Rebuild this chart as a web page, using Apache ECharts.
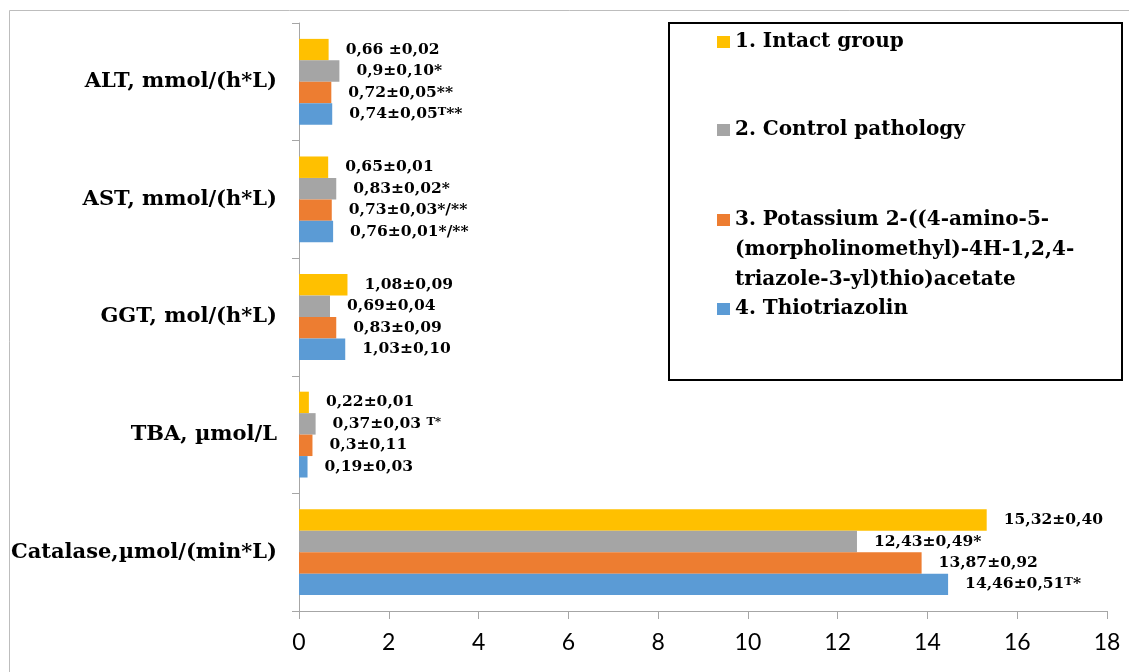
<!DOCTYPE html>
<html>
<head>
<meta charset="utf-8">
<script src="https://cdn.jsdelivr.net/npm/echarts@6/dist/echarts.min.js"></script>
<style>
html,body{margin:0;padding:0;background:#fff;}
#chart{width:1129px;height:672px;}
</style>
</head>
<body>
<div id="chart"></div>
<script>
const categories = ['ALT, mmol/(h*L)', 'AST, mmol/(h*L)', 'GGT, mol/(h*L)', 'TBA, µmol/L', 'Catalase,µmol/(min*L)'];
const seriesNames = [
  '1. Intact group',
  '2. Control pathology',
  '3. Potassium 2-((4-amino-5-\n(morpholinomethyl)-4H-1,2,4-\ntriazole-3-yl)thio)acetate',
  '4. Thiotriazolin'
];
const intactValues = [0.66, 0.65, 1.08, 0.22, 15.32];
const controlValues = [0.90, 0.83, 0.69, 0.37, 12.43];
const potassiumValues = [0.72, 0.73, 0.83, 0.30, 13.87];
const thioValues = [0.74, 0.76, 1.03, 0.19, 14.46];
const intactLabels = ['0,66 ±0,02', '0,65±0,01', '1,08±0,09', '0,22±0,01', '15,32±0,40'];
const controlLabels = ['0,9±0,10*', '0,83±0,02*', '0,69±0,04', '0,37±0,03 {s|T*}', '12,43±0,49*'];
const potassiumLabels = ['0,72±0,05**', '0,73±0,03*/**', '0,83±0,09', '0,3±0,11', '13,87±0,92'];
const thioLabels = ['0,74±0,05{s|T}**', '0,76±0,01*/**', '1,03±0,10', '0,19±0,03', '14,46±0,51{s|T}*'];
const xTicks = { min: 0, max: 18, interval: 2 };

const colors = ['#FFC000', '#A5A5A5', '#ED7D31', '#5B9BD5'];
const serif = '"DejaVu Serif", "Liberation Serif", serif';

function labelCfg(texts) {
  return {
    show: true,
    position: 'right',
    distance: 17,
    fontFamily: serif,
    fontWeight: 'bold',
    fontSize: 15.5,
    color: '#000',
    formatter: p => texts[p.dataIndex],
    rich: {
      s: { fontFamily: serif, fontWeight: 'bold', fontSize: 11.5, verticalAlign: 'top', color: '#000' }
    }
  };
}

const valueSets = [intactValues, controlValues, potassiumValues, thioValues];
const labelSets = [intactLabels, controlLabels, potassiumLabels, thioLabels];

const series = seriesNames.map((n, i) => ({
  name: n,
  type: 'bar',
  data: valueSets[i],
  itemStyle: { color: colors[i] },
  barGap: '0%',
  barCategoryGap: '27%',
  label: labelCfg(labelSets[i]),
  emphasis: { disabled: true }
}));

const legendTops = [27, 115, 145, 294];
const legends = seriesNames.map((n, i) => ({
  data: [n],
  orient: 'vertical',
  left: 717,
  top: legendTops[i],
  padding: 0,
  icon: 'rect',
  itemWidth: 13,
  itemHeight: 12,
  selectedMode: false,
  formatter: i === 2 ? (name => '\n\n' + name) : (name => name),
  textStyle: {
    fontFamily: serif,
    fontWeight: 'bold',
    fontSize: 20,
    lineHeight: 30,
    color: '#000'
  }
}));

const chart = echarts.init(document.getElementById('chart'));
chart.setOption({
  animation: false,
  backgroundColor: '#fff',
  color: colors,
  grid: { left: 299, right: 22, top: 23, bottom: 61 },
  legend: legends,
  graphic: [
    { type: 'rect', z: -10, silent: true, shape: { x: 9.5, y: 10.5, width: 1300, height: 800 }, style: { fill: 'none', stroke: '#bdbdbd', lineWidth: 1 } },
    { type: 'rect', z: 0, silent: true, shape: { x: 669, y: 23, width: 453, height: 357 }, style: { fill: 'none', stroke: '#000', lineWidth: 2 } }
  ],
  xAxis: {
    type: 'value',
    min: xTicks.min,
    max: xTicks.max,
    interval: xTicks.interval,
    splitLine: { show: false },
    axisLine: { show: true, lineStyle: { color: '#a6a6a6', width: 1 } },
    axisTick: { show: true, length: 8, lineStyle: { color: '#a6a6a6' } },
    axisLabel: { margin: 20, fontFamily: 'Lato, "Open Sans", sans-serif', fontSize: 23, color: '#000' }
  },
  yAxis: {
    type: 'category',
    inverse: true,
    data: categories,
    axisLine: { show: true, lineStyle: { color: '#a6a6a6', width: 1 } },
    axisTick: { show: true, length: 7, alignWithLabel: false, lineStyle: { color: '#a6a6a6' } },
    axisLabel: { margin: 22, fontFamily: serif, fontWeight: 'bold', fontSize: 21, color: '#000' }
  },
  series: series
});
</script>
</body>
</html>
